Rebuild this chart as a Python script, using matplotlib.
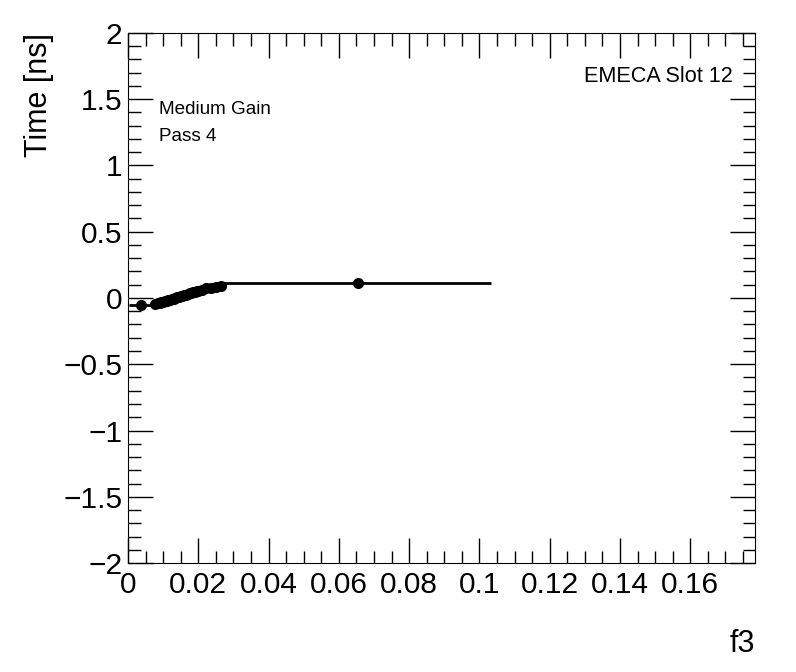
import numpy as np
import matplotlib.pyplot as plt
from matplotlib.ticker import MultipleLocator

plt.rcParams['font.family'] = ['Liberation Sans', 'DejaVu Sans']

# f3 vs timing offset
f3_lo = [0.0038]
t_lo = [-0.053]
f3_lo_err = [0.0035]

f3_mid = [0.0078, 0.0085, 0.0090, 0.0095, 0.0100, 0.0105, 0.0110, 0.0115,
          0.0120, 0.0125, 0.0130, 0.0135, 0.0140, 0.0145, 0.0150, 0.0155,
          0.0160, 0.0165, 0.0170, 0.0175, 0.0180, 0.0185, 0.0190, 0.0195,
          0.0200, 0.0210, 0.0222, 0.0237, 0.0250, 0.0265]
t_mid = [-0.045, -0.040, -0.036, -0.032, -0.028, -0.025, -0.020, -0.016,
         -0.012, -0.008, -0.004, 0.000, 0.004, 0.008, 0.012, 0.016,
         0.020, 0.025, 0.030, 0.034, 0.038, 0.042, 0.047, 0.052,
         0.056, 0.064, 0.072, 0.076, 0.080, 0.090]
f3_mid_err = [0.0004] * len(f3_mid)

f3_hi = [0.0654]
t_hi = [0.111]
f3_hi_err = [0.038]

fig = plt.figure(figsize=(7.96, 6.72), dpi=100)
ax = fig.add_axes([0.1608, 0.1622, 0.7877, 0.7887])

for xs, ys, xe in [(f3_lo, t_lo, f3_lo_err), (f3_mid, t_mid, f3_mid_err),
                   (f3_hi, t_hi, f3_hi_err)]:
    ax.errorbar(xs, ys, xerr=xe, fmt='o', color='black', ms=7,
                elinewidth=2, capsize=0)

ax.set_xlim(0, 0.1784)
ax.set_ylim(-2, 2)
ax.xaxis.set_minor_locator(MultipleLocator(0.005))
ax.yaxis.set_minor_locator(MultipleLocator(0.1))
ax.tick_params(which='both', direction='in', top=True, right=True,
               labelsize=21.5, width=1)
ax.tick_params(which='major', length=18)
ax.tick_params(which='minor', length=9)
ax.tick_params(axis='x', pad=6)
ax.tick_params(axis='y', pad=4)
ax.set_xticks(np.arange(0, 0.17, 0.02))
ax.set_xticklabels(['0', '0.02', '0.04', '0.06', '0.08', '0.1', '0.12',
                    '0.14', '0.16'])
ax.set_yticks(np.arange(-2, 2.01, 0.5))
ax.set_yticklabels(['\u22122', '\u22121.5', '\u22121', '\u22120.5', '0',
                    '0.5', '1', '1.5', '2'])

ax.set_ylabel('Time [ns]', fontsize=22)
ax.yaxis.set_label_coords(-0.118, 1.0)
ax.yaxis.label.set_horizontalalignment('right')
ax.set_xlabel('f3', fontsize=22)
ax.xaxis.set_label_coords(1.0, -0.125)
ax.xaxis.label.set_horizontalalignment('right')

ax.text(0.05, 0.848, 'Medium Gain', transform=ax.transAxes, fontsize=13.6)
ax.text(0.05, 0.796, 'Pass 4', transform=ax.transAxes, fontsize=13.6)
ax.text(0.965, 0.908, 'EMECA Slot 12', transform=ax.transAxes,
        fontsize=15.6, ha='right')

fig.savefig('out.png', dpi=100)
